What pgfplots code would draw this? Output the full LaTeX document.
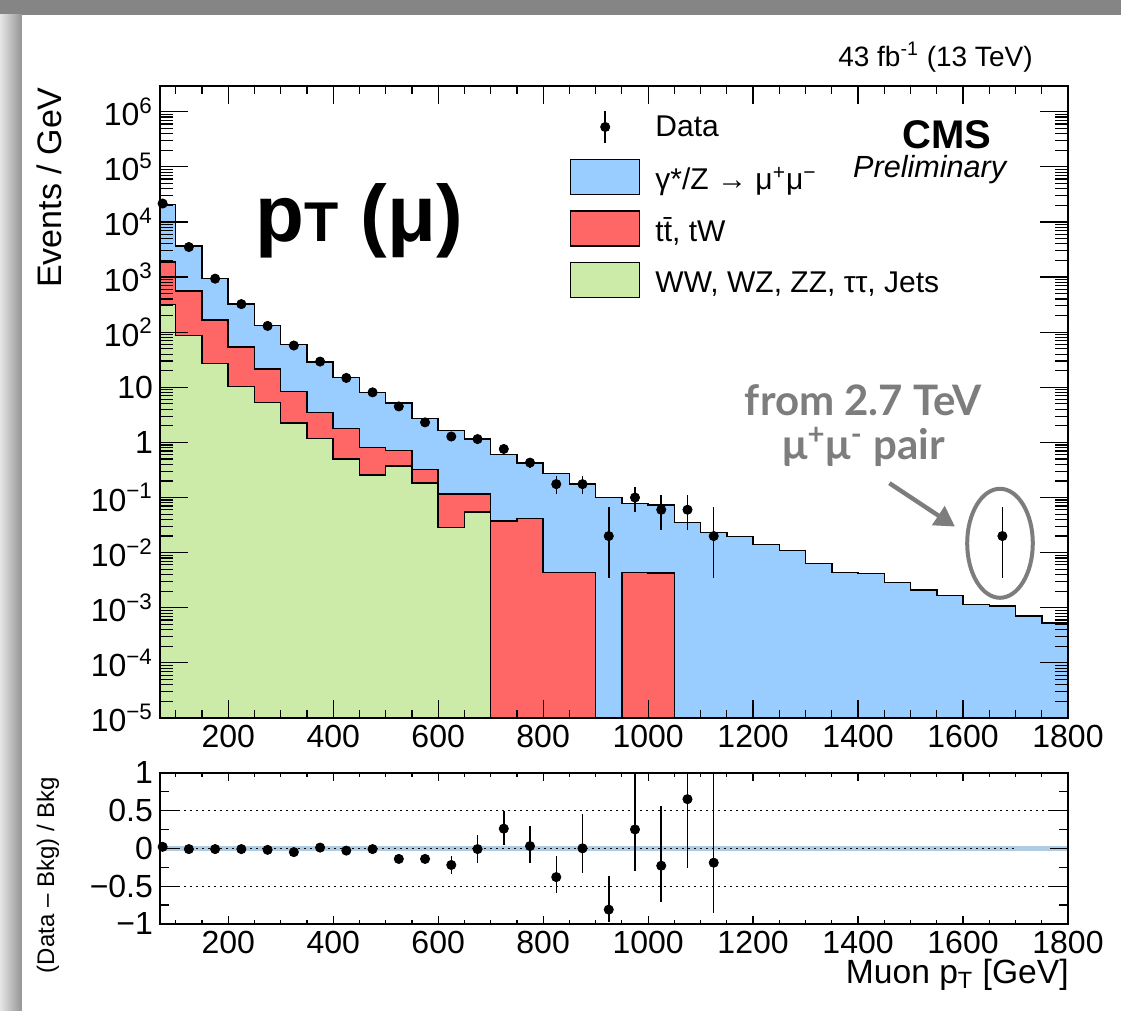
\documentclass[border=0pt]{standalone}
\usepackage{pgfplots}
\pgfplotsset{compat=1.18}
\usepackage{pgfplotstable}
\usepackage{fontspec}
\setmainfont{Liberation Sans}
\newfontfamily\latofont{Lato}
\usetikzlibrary{arrows.meta}
\definecolor{dyblue}{RGB}{153,204,255}
\definecolor{ttred}{RGB}{255,102,102}
\definecolor{ewkgreen}{RGB}{205,235,168}
\definecolor{bandblue}{RGB}{176,204,226}
\definecolor{annogray}{RGB}{125,125,125}

% stacked histogram tops (Events / GeV), bin left edges; last rows close the area below the axis
\pgfplotstableread{
x y
50 2.07e4
100 3660
150 935
200 328
250 132
300 59.7
350 28.5
400 15.2
450 8.1
500 5.2
550 2.73
600 1.63
650 1.15
700 0.60
750 0.42
800 0.275
850 0.175
900 0.10
950 0.078
1000 0.0736
1050 0.035
1100 0.023
1150 0.0195
1200 0.0142
1250 0.011
1300 0.0064
1350 0.00433
1400 0.00415
1450 0.00285
1500 0.00212
1550 0.00168
1600 0.00115
1650 0.00107
1700 0.000706
1750 0.000533
1800 0.000533
1800 1e-7
50 1e-7
}\totaltab

\pgfplotstableread{
x y
50 1875
100 556
150 168
200 53.4
250 21.6
300 8.46
350 3.51
400 1.8
450 0.81
500 0.706
550 0.323
600 0.115
650 0.115
700 0.0377
750 0.042
800 0.00433
850 0.00433
900 1e-7
950 0.0044
1000 0.0043
1050 1e-7
1800 1e-7
50 1e-7
}\toptab

\pgfplotstableread{
x y
50 319
100 87
150 27.3
200 10.4
250 5.34
300 2.25
350 1.18
400 0.5
450 0.255
500 0.377
550 0.182
600 0.0285
650 0.055
700 1e-7
1800 1e-7
50 1e-7
}\ewktab

\pgfplotstableread{
x y ep em
75 21600 150 150
125 3510 8 8
175 935 4 4
225 323 2.5 2.5
275 130 1.6 1.6
325 57.3 1.1 1.1
375 29.3 0.77 0.77
425 14.8 0.54 0.54
475 8.1 0.4 0.4
525 4.5 0.3 0.3
575 2.31 0.21 0.21
625 1.28 0.16 0.16
675 1.15 0.15 0.15
725 0.76 0.13 0.12
775 0.43 0.08 0.08
825 0.175 0.066 0.057
875 0.175 0.066 0.057
925 0.02 0.046 0.0165
975 0.1 0.057 0.045
1025 0.06 0.051 0.034
1075 0.06 0.051 0.034
1125 0.02 0.046 0.0165
1675 0.02 0.046 0.0165
}\datatab

\pgfplotstableread{
x y ep em
75 0.02 0 0
125 -0.01 0 0
175 -0.01 0 0
225 -0.01 0 0
275 -0.02 0 0
325 -0.05 0 0
375 0.01 0 0
425 -0.03 0 0
475 -0.01 0 0
525 -0.14 0.06 0.06
575 -0.14 0.06 0.06
625 -0.22 0.12 0.12
675 -0.01 0.19 0.19
725 0.26 0.24 0.21
775 0.03 0.27 0.23
825 -0.38 0.28 0.21
875 0.0 0.45 0.33
925 -0.81 0.44 0.16
975 0.25 0.9 0.55
1025 -0.23 0.79 0.48
1075 0.65 0.6 0.91
1125 -0.19 1.4 0.66
}\ratiotab

\newcommand{\legrow}[2]{\smash{\raisebox{#1}{#2}}}

\begin{document}
\begin{tikzpicture}
\useasboundingbox (0pt,0pt) rectangle (560.5pt,505.5pt);
% page frame (screenshot border)
\fill[black!48] (0pt,0pt) rectangle (560.5pt,505.5pt);
\shade[left color=black!10, right color=black!42] (0pt,0pt) rectangle (11pt,498pt);
\fill[white] (11pt,0pt) rectangle (560.5pt,498pt);

\begin{axis}[
  at={(80pt,146.5pt)}, anchor=south west,
  scale only axis, width=454pt, height=316pt,
  xmin=70, xmax=1800,
  ymode=log, ymin=1e-5, ymax=2.93e6,
  axis on top,
  axis line style={line width=0.9pt},
  tick align=inside,
  every tick/.style={black, line width=0.6pt},
  xtick={200,400,...,1800},
  xticklabels={200,400,600,800,1000,1200,1400,1600,1800},
  minor xtick={100,150,...,1800},
  xtick style={/pgfplots/major tick length=9pt,/pgfplots/minor tick length=4pt},
  ytickten={-5,...,6},
  yticklabels={10\textsuperscript{−5},10\textsuperscript{−4},10\textsuperscript{−3},10\textsuperscript{−2},10\textsuperscript{−1},1,10,10\textsuperscript{2},10\textsuperscript{3},10\textsuperscript{4},10\textsuperscript{5},10\textsuperscript{6}},
  ytick style={/pgfplots/major tick length=14pt,/pgfplots/minor tick length=6.5pt},
  ticklabel style={font=\fontsize{16}{16}\selectfont},
  legend style={at={(0.4515,0.9736)}, anchor=north west, draw=none, fill=none,
    inner sep=0pt, outer sep=0pt, row sep=4.85pt, column sep=7.5pt,
    nodes={inner sep=0pt}, font=\fontsize{15}{15}\selectfont},
  legend cell align=left,
]
\addlegendimage{legend image code/.code={\path[draw=none,fill=none] (0pt,0pt) rectangle (34.5pt,20.15pt);
   \draw[black,line width=0.75pt] (17.25pt,0pt)--(17.25pt,16pt);
   \fill[black] (17.25pt,8pt) circle (2.3pt);}}
\addlegendentry{\legrow{2.6pt}{Data}}
\addlegendimage{legend image code/.code={\path[draw=none,fill=none] (0pt,0pt) rectangle (34.5pt,20.15pt);
   \draw[fill=dyblue,line width=0.75pt] (0pt,0pt) rectangle (34.5pt,17.5pt);}}
\addlegendentry{\legrow{1.6pt}{γ*/Z → μ\textsuperscript{+}μ\textsuperscript{−}}}
\addlegendimage{legend image code/.code={\path[draw=none,fill=none] (0pt,0pt) rectangle (34.5pt,20.15pt);
   \draw[fill=ttred,line width=0.75pt] (0pt,0pt) rectangle (34.5pt,17.5pt);}}
\addlegendentry{\legrow{1.6pt}{t\={t}, tW}}
\addlegendimage{legend image code/.code={\path[draw=none,fill=none] (0pt,0pt) rectangle (34.5pt,20.15pt);
   \draw[fill=ewkgreen,line width=0.75pt] (0pt,0pt) rectangle (34.5pt,17.5pt);}}
\addlegendentry{\legrow{1.6pt}{WW, WZ, ZZ, ττ, Jets}}

\addplot[forget plot, const plot mark left, fill=dyblue, draw=black, line width=0.75pt] table[x=x,y=y] {\totaltab};
\addplot[forget plot, const plot mark left, fill=ttred, draw=black, line width=0.75pt] table[x=x,y=y] {\toptab};
\addplot[forget plot, const plot mark left, fill=ewkgreen, draw=black, line width=0.75pt] table[x=x,y=y] {\ewktab};
\addplot[forget plot, only marks, mark=*, mark size=2.3pt, black,
  error bars/.cd, y dir=both, y explicit, error mark=none,
  error bar style={line width=0.75pt, black}]
  table[x=x, y=y, y error plus=ep, y error minus=em] {\datatab};
\end{axis}

\begin{axis}[
  at={(80pt,43.5pt)}, anchor=south west,
  scale only axis, width=454pt, height=75.65pt,
  xmin=70, xmax=1800, ymin=-1, ymax=1,
  axis on top,
  axis line style={line width=0.9pt},
  tick align=inside,
  every tick/.style={black, line width=0.6pt},
  xtick={200,400,...,1800},
  xticklabels={200,400,600,800,1000,1200,1400,1600,1800},
  minor xtick={100,150,...,1800},
  xtick style={/pgfplots/major tick length=4pt,/pgfplots/minor tick length=2.2pt},
  ytick={-1,-0.5,0,0.5,1},
  yticklabels={−1,−0.5,0,0.5,1},
  minor ytick={-0.75,-0.25,0.25,0.75},
  ytick style={/pgfplots/major tick length=9pt,/pgfplots/minor tick length=4.5pt},
  ticklabel style={font=\fontsize{16}{16}\selectfont},
]
\addplot[draw=none, fill=bandblue] coordinates {(70,-0.03) (1800,-0.03) (1800,0.03) (70,0.03)} -- cycle;
\addplot[black, line width=0.6pt, dash pattern=on 0.9pt off 2.1pt] coordinates {(70,0) (1700,0)};
\addplot[black, line width=0.6pt, dash pattern=on 0.9pt off 2.1pt] coordinates {(70,0.5) (1800,0.5)};
\addplot[black, line width=0.6pt, dash pattern=on 0.9pt off 2.1pt] coordinates {(70,-0.5) (1800,-0.5)};
\addplot[only marks, mark=*, mark size=2.3pt, black,
  error bars/.cd, y dir=both, y explicit, error mark=none,
  error bar style={line width=0.75pt, black}]
  table[x=x, y=y, y error plus=ep, y error minus=em] {\ratiotab};
\end{axis}

% texts
\node[anchor=east, inner sep=0pt, font=\fontsize{14}{14}\selectfont] at (516.5pt,477pt) {43 fb\textsuperscript{-1} (13 TeV)};
\node[anchor=east, inner sep=0pt, font=\fontsize{20}{20}\selectfont\bfseries] at (495.8pt,438pt) {CMS};
\node[anchor=east, inner sep=0pt, font=\fontsize{15.3}{16}\selectfont\itshape] at (503.3pt,420.5pt) {Preliminary};
\node[anchor=base west, inner sep=0pt] at (127.5pt,384.6pt) {\fontsize{40}{40}\selectfont\bfseries p{\fontsize{28}{28}\selectfont T} (μ)};
\node[rotate=90, anchor=east, inner sep=0pt, font=\fontsize{17}{17}\selectfont] at (24.5pt,462pt) {Events / GeV};
\node[rotate=90, inner sep=0pt, font=\fontsize{12}{12}\selectfont] at (24pt,68pt) {(Data – Bkg) / Bkg};
\node[anchor=base east, inner sep=0pt, font=\fontsize{16.8}{17}\selectfont] at (534.5pt,13.8pt) {Muon p\textsubscript{T} [GeV]};

% annotation
\node[inner sep=0pt, text=annogray, font=\latofont\bfseries\fontsize{21}{21}\selectfont] at (431.7pt,305.5pt) {from 2.7 TeV};
\node[inner sep=0pt, text=annogray, font=\latofont\bfseries\fontsize{21}{21}\selectfont] at (431.7pt,282.2pt) {μ\textsuperscript{+}μ\textsuperscript{-} pair};
\draw[annogray, line width=2pt] (500pt,233.85pt) ellipse [x radius=16.4pt, y radius=27.25pt];
\draw[annogray, line width=2.2pt, -{Triangle[length=10pt,width=11pt]}] (444.7pt,263.9pt) -- (477.5pt,242.2pt);
\end{tikzpicture}
\end{document}
